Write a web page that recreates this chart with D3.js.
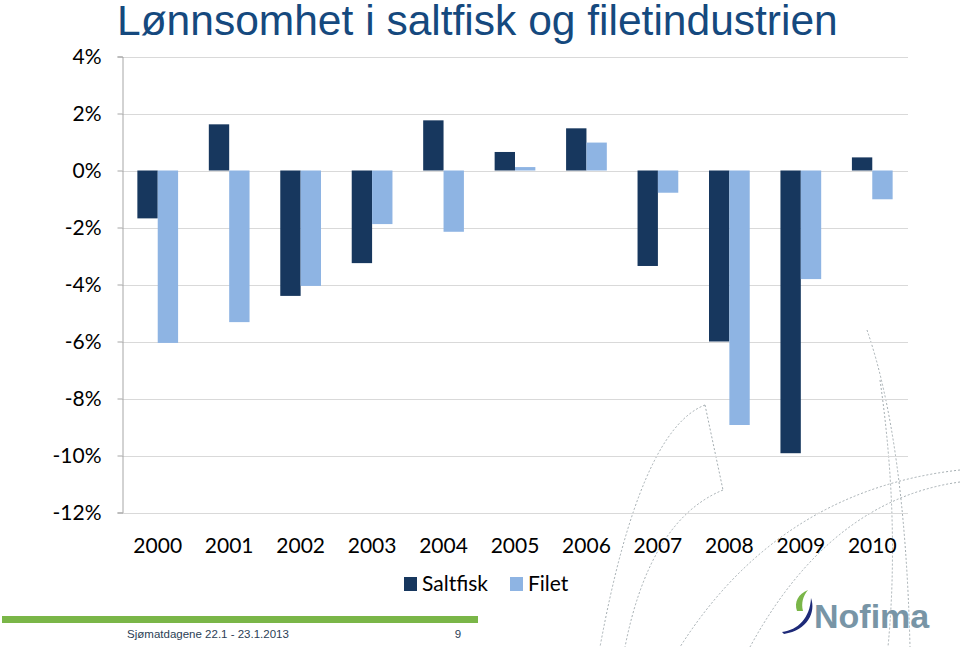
<!DOCTYPE html>
<html><head><meta charset="utf-8">
<script src="https://cdn.jsdelivr.net/npm/d3@7"></script>
<style>
html,body{margin:0;padding:0;background:#fff;}
svg{display:block;}
</style></head>
<body>
<svg id="chart" width="960" height="647"></svg>
<script>
// ---- data ----
const years = ["2000","2001","2002","2003","2004","2005","2006","2007","2008","2009","2010"];
const seriesNames = ["Saltfisk","Filet"];
const saltfisk = [-1.68, 1.62, -4.40, -3.25, 1.76, 0.65, 1.48, -3.35, -6.00, -9.92, 0.46];
const filet    = [-6.05, -5.32, -4.05, -1.88, -2.15, 0.12, 0.98, -0.78, -8.93, -3.81, -1.01];
const yTicks = [4, 2, 0, -2, -4, -6, -8, -10, -12];
const titleText = "Lønnsomhet i saltfisk og filetindustrien";
const footerText = "Sjømatdagene 22.1 - 23.1.2013";
const pageNo = "9";

const colors = {Saltfisk:"#17375E", Filet:"#8EB4E3"};

const svg = d3.select("#chart");

// ---- decorative dotted arcs ----
const deco = svg.append("g").attr("fill","none").attr("stroke","#9aa4a8")
  .attr("stroke-width",0.9).attr("stroke-dasharray","2,2");
[
 "M867,330 Q905,440 910,647",
 "M880,380 Q900,520 888,647",
 "M705,405 L723,490",
 "M705,405 Q640,430 600,647",
 "M723,490 Q650,520 625,647",
 "M960,470 Q780,490 680,647",
 "M960,482 Q830,500 750,647"
].forEach(d => deco.append("path").attr("d", d));

// ---- scales ----
const plotL = 122, plotR = 908, plotT = 56.5, plotB = 512.5;
const x0 = d3.scaleBand().domain(years).range([plotL, plotR]).padding(0);
const step = x0.bandwidth();
const x1 = d3.scaleBand().domain(seriesNames).range([step*0.215, step*0.785]).padding(0);
const y = d3.scaleLinear().domain([-12, 4]).range([plotB, plotT]);

// gridlines
svg.append("g").selectAll("line").data(yTicks).join("line")
  .attr("x1", plotL).attr("x2", plotR)
  .attr("y1", d => Math.round(y(d))+0.5).attr("y2", d => Math.round(y(d))+0.5)
  .attr("stroke", "#D9D9D9").attr("stroke-width", 1);

// y axis
const yAxis = d3.axisLeft(y).tickValues(yTicks).tickSize(5).tickPadding(16)
  .tickFormat(d => d + "%");
const gy = svg.append("g").attr("transform", `translate(${plotL+0.5},0)`).call(yAxis);
gy.select(".domain").attr("stroke", "#A6A6A6");
gy.selectAll(".tick line").attr("stroke", "#A6A6A6");
gy.selectAll(".tick text").attr("font-family", "Lato, 'Open Sans', sans-serif")
  .attr("font-size", 21).attr("fill", "#000");

// bars
const data = years.map((yr, i) => ({year: yr, values: [
  {key:"Saltfisk", v:saltfisk[i]}, {key:"Filet", v:filet[i]}]}));
const groups = svg.append("g").selectAll("g").data(data).join("g")
  .attr("transform", d => `translate(${x0(d.year)},0)`);
groups.selectAll("rect").data(d => d.values).join("rect")
  .attr("x", d => x1(d.key)).attr("width", x1.bandwidth())
  .attr("y", d => y(Math.max(0, d.v)))
  .attr("height", d => Math.abs(y(d.v) - y(0)))
  .attr("fill", d => colors[d.key]);

// x axis labels
const xAxis = d3.axisBottom(x0).tickSize(0).tickPadding(0);
const gx = svg.append("g").attr("transform", `translate(0,${plotB+25})`).call(xAxis);
gx.select(".domain").remove();
gx.selectAll(".tick text").attr("font-family", "Lato, 'Open Sans', sans-serif")
  .attr("font-size", 21).attr("fill", "#000").attr("dy", "0.75em");

// legend
const legend = svg.append("g").attr("font-family", "Lato, 'Open Sans', sans-serif");
const legendItems = [{key:"Saltfisk", x:404, tx:422}, {key:"Filet", x:510, tx:528}];
legendItems.forEach(it => {
  legend.append("rect").attr("x", it.x).attr("y", 577).attr("width", 13).attr("height", 14)
    .attr("fill", colors[it.key]);
  legend.append("text").attr("x", it.tx).attr("y", 591).attr("font-size", 21)
    .attr("fill", "#000").text(it.key);
});

// title
const title = svg.append("text").attr("x", 117).attr("y", 34.5)
  .attr("font-family", "'Liberation Sans', Arial, sans-serif")
  .attr("font-size", 36).attr("fill", "#15497E").text(titleText);
const tl = title.node().getComputedTextLength();
title.attr("font-size", 36 * 721 / tl);

// footer
svg.append("rect").attr("x", 2).attr("y", 616).attr("width", 476).attr("height", 7).attr("fill", "#7AB648");
svg.append("text").attr("x", 208).attr("y", 638).attr("text-anchor", "middle")
  .attr("font-family", "'Liberation Sans', Arial, sans-serif").attr("font-size", 11.5)
  .attr("fill", "#2B3E55").text(footerText);
svg.append("text").attr("x", 458).attr("y", 638).attr("text-anchor", "middle")
  .attr("font-family", "'Liberation Sans', Arial, sans-serif").attr("font-size", 11.5)
  .attr("fill", "#2B3E55").text(pageNo);

// logo
const logo = svg.append("g");
logo.append("path").attr("d", "M797,611 C794,602 798,594 808,590 C803,596 801,603 803,611 Z").attr("fill", "#7AB648");
logo.append("path").attr("d", "M782,632 C798,630 810,618 811,598 C816,612 808,630 784,634 Z").attr("fill", "#1E2A78");
logo.append("text").attr("x", 814).attr("y", 628)
  .attr("font-family", "'Liberation Sans', Arial, sans-serif").attr("font-weight", "bold")
  .attr("font-size", 34).attr("fill", "#7895A6").text("Nofima");
</script>
</body></html>
